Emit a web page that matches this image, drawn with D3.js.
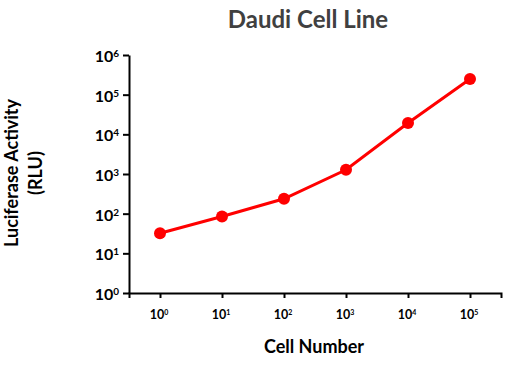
<!DOCTYPE html>
<html>
<head>
<meta charset="utf-8">
<script src="https://cdn.jsdelivr.net/npm/d3@7"></script>
<style>
  body { margin: 0; background: #fff; }
  text { font-family: Lato, "Open Sans", sans-serif; font-weight: bold; }
</style>
</head>
<body>
<div id="chart"></div>
<script>
// cell number exponents (10^n) and luciferase readings
var cellExponents = [0, 1, 2, 3, 4, 5];
var rluValues = [32, 85, 237, 1280, 19300, 249000];
var yTickExponents = [0, 1, 2, 3, 4, 5, 6];

var width = 510, height = 382;
var svg = d3.select("#chart").append("svg")
    .attr("width", width)
    .attr("height", height);

var xScale = d3.scalePoint().domain(cellExponents).range([129, 501]).padding(0.5);
var yScale = d3.scaleLog().domain([1, 1e6]).range([293, 55]);

// x axis
var xAxis = svg.append("g")
    .attr("transform", "translate(0,293)")
    .call(d3.axisBottom(xScale).tickSize(5).tickSizeOuter(5).tickFormat(""));
xAxis.selectAll("path, line").attr("stroke", "#000").attr("stroke-width", 2);

// y axis
var yAxis = svg.append("g")
    .attr("transform", "translate(129,0)")
    .call(d3.axisLeft(yScale).tickValues(yTickExponents.map(function (e) { return Math.pow(10, e); }))
        .tickSize(6).tickSizeOuter(0).tickFormat(""));
yAxis.selectAll("path, line").attr("stroke", "#000").attr("stroke-width", 2);

// y tick labels with superscripts
yTickExponents.forEach(function (e) {
    var t = svg.append("text")
        .attr("x", 119)
        .attr("y", yScale(Math.pow(10, e)) + 7)
        .attr("text-anchor", "end")
        .attr("font-size", 16)
        .attr("fill", "#000");
    t.append("tspan").text("10");
    t.append("tspan").attr("dy", -5).attr("font-size", 10).text(e);
});

// x tick labels
cellExponents.forEach(function (e) {
    var t = svg.append("text")
        .attr("x", xScale(e) - 1)
        .attr("y", 319)
        .attr("text-anchor", "middle")
        .attr("font-size", 12.5)
        .attr("fill", "#000");
    t.append("tspan").text("10");
    t.append("tspan").attr("dy", -4).attr("font-size", 7).text(e);
});

// line + markers
var pts = cellExponents.map(function (e, i) { return { x: e, y: rluValues[i] }; });
var line = d3.line()
    .x(function (d) { return xScale(d.x); })
    .y(function (d) { return yScale(d.y); });
svg.append("path")
    .datum(pts)
    .attr("d", line)
    .attr("fill", "none")
    .attr("stroke", "#ff0000")
    .attr("stroke-width", 3);
svg.selectAll("circle.pt").data(pts).enter().append("circle")
    .attr("class", "pt")
    .attr("cx", function (d) { return xScale(d.x); })
    .attr("cy", function (d) { return yScale(d.y); })
    .attr("r", 6)
    .attr("fill", "#ff0000");

// titles
svg.append("text")
    .attr("x", 308).attr("y", 28)
    .attr("text-anchor", "middle")
    .attr("font-size", 24)
    .attr("fill", "#404040")
    .text("Daudi Cell Line");

svg.append("text")
    .attr("x", 314).attr("y", 353)
    .attr("text-anchor", "middle")
    .attr("font-size", 18)
    .attr("fill", "#000")
    .text("Cell Number");

svg.append("text")
    .attr("transform", "translate(18,173) rotate(-90)")
    .attr("text-anchor", "middle")
    .attr("font-size", 18)
    .attr("fill", "#000")
    .text("Luciferase Activity");
svg.append("text")
    .attr("transform", "translate(42,173) rotate(-90)")
    .attr("text-anchor", "middle")
    .attr("font-size", 18)
    .attr("fill", "#000")
    .text("(RLU)");
</script>
</body>
</html>
